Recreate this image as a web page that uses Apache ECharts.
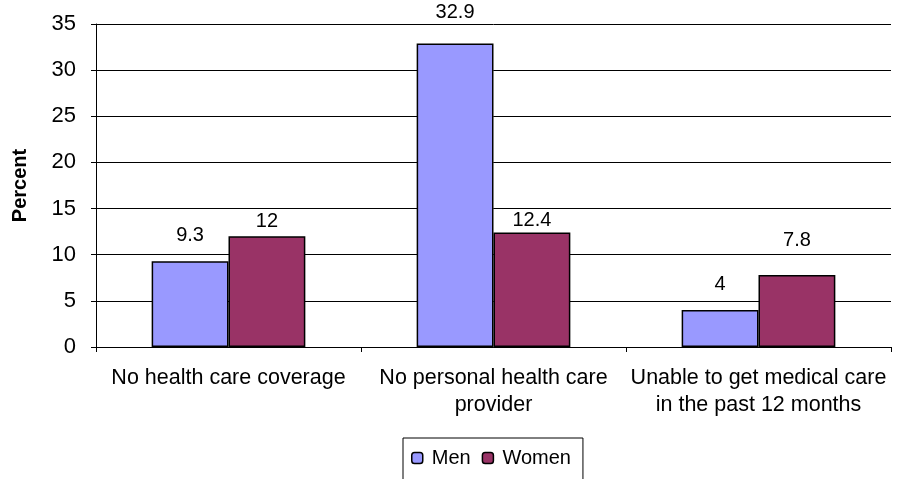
<!DOCTYPE html>
<html>
<head>
<meta charset="utf-8">
<script src="https://cdn.jsdelivr.net/npm/echarts@6/dist/echarts.min.js"></script>
<style>
  html, body { margin: 0; padding: 0; background: #fff; }
  #chart { width: 900px; height: 479px; }
</style>
</head>
<body>
<div id="chart"></div>
<script>
// categories and values
const categories = ['No health care coverage', 'No personal health care\nprovider', 'Unable to get medical care\nin the past 12 months']
const menValues = [9.3, 32.9, 4]
const womenValues = [12, 12.4, 7.8]

// label gaps above the bars (the original labels sit at uneven heights)
const menLabelGap = [16, 21, 16]
const womenLabelGap = [5, 2, 25]

const chart = echarts.init(document.getElementById('chart'))
const font = 'Liberation Sans, Arial, sans-serif'

function barSeries(name, values, gaps, color) {
  return {
    name: name,
    type: 'bar',
    data: values.map((v, i) => ({ value: v, label: { distance: gaps[i] } })),
    barGap: '0%',
    barCategoryGap: '42%',
    itemStyle: { color: color, borderColor: '#000', borderWidth: 1.5 },
    label: {
      show: true,
      position: 'top',
      distance: 5,
      color: '#000',
      fontFamily: font,
      fontSize: 20
    }
  }
}

chart.setOption({
  animation: false,
  grid: { left: 96, right: 9, top: 24, bottom: 132 },
  legend: {
    data: ['Men', 'Women'],
    left: 403,
    top: 438,
    itemWidth: 11,
    itemHeight: 11,
    itemGap: 11,
    padding: [10, 12, 30, 8],
    borderColor: '#000',
    borderWidth: 1,
    textStyle: { fontFamily: font, fontSize: 20, color: '#000', padding: [0, 0, 0, 4] },
    itemStyle: { borderColor: '#000', borderWidth: 1.5 }
  },
  xAxis: {
    type: 'category',
    data: categories,
    axisLine: { lineStyle: { color: '#000' } },
    axisTick: { show: true, length: 5, lineStyle: { color: '#000' } },
    axisLabel: {
      interval: 0,
      hideOverlap: false,
      color: '#000',
      fontFamily: font,
      fontSize: 21.5,
      margin: 18,
      lineHeight: 27
    }
  },
  yAxis: {
    type: 'value',
    min: 0,
    max: 35,
    interval: 5,
    name: 'Percent',
    nameLocation: 'middle',
    nameGap: 66,
    nameTextStyle: { color: '#000', fontFamily: font, fontSize: 20, fontWeight: 'bold' },
    axisLine: { show: true, lineStyle: { color: '#000' } },
    axisTick: { show: true, length: 5, lineStyle: { color: '#000' } },
    axisLabel: { color: '#000', fontFamily: font, fontSize: 22, margin: 20 },
    splitLine: { lineStyle: { color: '#000', width: 1 } }
  },
  series: [
    barSeries('Men', menValues, menLabelGap, '#9999FF'),
    barSeries('Women', womenValues, womenLabelGap, '#993366')
  ]
})
</script>
</body>
</html>
